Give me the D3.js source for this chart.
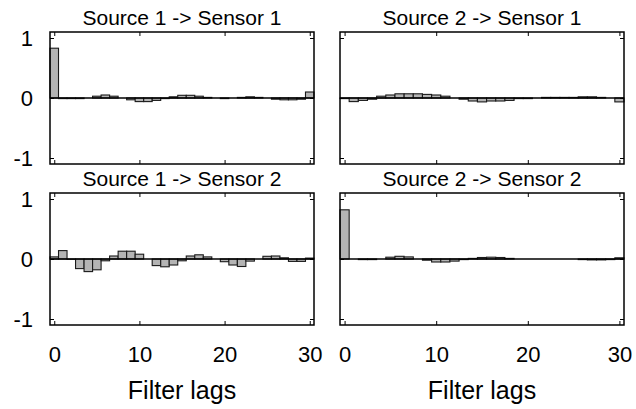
<!DOCTYPE html>
<html>
<head>
<meta charset="utf-8">
<script src="https://cdn.jsdelivr.net/npm/d3@7"></script>
<style>
  html, body { margin: 0; padding: 0; background: #fff; }
  svg { display: block; }
  text { font-family: "Liberation Sans", Arial, Helvetica, sans-serif; fill: #000; }
</style>
</head>
<body>
<svg id="chart" width="636" height="409"></svg>
<script>
// ---- data ----
const lags = d3.range(0, 31);
const xTicks = [0, 10, 20, 30];
const yTicks = [-1, 0, 1];
const panelTitles = ["Source 1 -> Sensor 1", "Source 2 -> Sensor 1", "Source 1 -> Sensor 2", "Source 2 -> Sensor 2"];
const xLabel = "Filter lags";

const s1ToSensor1 = [0.83, -0.01, -0.01, -0.01, 0.0, 0.03, 0.05, 0.03, 0.0, -0.03, -0.06, -0.06, -0.04, -0.01, 0.02, 0.045,
  0.045, 0.03, 0.01, 0.0, -0.01, 0.0, 0.01, 0.02, 0.01, 0.0, -0.02, -0.03, -0.03, -0.02, 0.1];
const s2ToSensor1 = [-0.01, -0.06, -0.04, -0.02, 0.03, 0.05, 0.07, 0.07, 0.07, 0.06, 0.05, 0.03, 0.0, -0.02, -0.05, -0.065,
  -0.05, -0.05, -0.04, -0.01, -0.01, 0.0, 0.01, 0.01, 0.01, 0.01, 0.02, 0.02, 0.01, 0.0, -0.065];
const s1ToSensor2 = [0.035, 0.14, -0.005, -0.16, -0.21, -0.18, -0.03, 0.05, 0.13, 0.13, 0.08, 0.0, -0.11, -0.13, -0.1, -0.03,
  0.05, 0.07, 0.035, 0.0, -0.045, -0.1, -0.125, -0.035, 0.0, 0.045, 0.05, 0.02, -0.04, -0.04, 0.015];
const s2ToSensor2 = [0.82, 0.0, -0.01, -0.01, 0.0, 0.03, 0.045, 0.035, 0.0, -0.02, -0.05, -0.05, -0.035, -0.01, 0.01, 0.025,
  0.03, 0.025, 0.01, 0.0, 0.0, 0.0, 0.0, 0.0, 0.0, 0.0, -0.01, -0.015, -0.015, -0.01, 0.02];

const panelSeries = [s1ToSensor1, s2ToSensor1, s1ToSensor2, s2ToSensor2];

// ---- layout ----
const svg = d3.select("#chart");
const cols = [[50, 314], [340, 624]];
const rows = [[32, 164], [193, 325]];
const fmt = d => String(d);

panelSeries.forEach((vals, i) => {
  const col = i % 2, row = Math.floor(i / 2);
  const [x0, x1] = cols[col];
  const [y0, y1] = rows[row];
  const x = d3.scaleLinear().domain([-0.5, 30.5]).range([x0, x1]);
  const y = d3.scaleLinear().domain([-1.1, 1.1]).range([y1, y0]);
  const g = svg.append("g");

  // bars
  g.selectAll("rect.bar").data(lags).join("rect")
    .attr("class", "bar")
    .attr("x", d => x(d - 0.5))
    .attr("width", d => x(d + 0.5) - x(d - 0.5))
    .attr("y", d => y(Math.max(0, vals[d])))
    .attr("height", d => Math.abs(y(vals[d]) - y(0)))
    .attr("fill", "#b4b4b4")
    .attr("stroke", "#1a1a1a")
    .attr("stroke-width", 1.1);

  // zero line
  g.append("line")
    .attr("x1", x0).attr("x2", x1)
    .attr("y1", y(0)).attr("y2", y(0))
    .attr("stroke", "#000").attr("stroke-width", 1.5);

  // inward ticks (all four sides)
  const tickLen = 4;
  const axB = d3.axisBottom(x).tickValues(xTicks).tickSizeInner(-tickLen).tickSizeOuter(0).tickFormat(row === 1 ? fmt : () => "");
  const axT = d3.axisTop(x).tickValues(xTicks).tickSizeInner(-tickLen).tickSizeOuter(0).tickFormat(() => "");
  const axL = d3.axisLeft(y).tickValues(yTicks).tickSizeInner(-tickLen).tickSizeOuter(0).tickFormat(col === 0 ? fmt : () => "");
  const axR = d3.axisRight(y).tickValues(yTicks).tickSizeInner(-tickLen).tickSizeOuter(0).tickFormat(() => "");

  const styleAxis = (sel) => {
    sel.select(".domain").remove();
    sel.selectAll(".tick line").attr("stroke", "#000").attr("stroke-width", 1);
  };
  g.append("g").attr("transform", `translate(0,${y1})`).call(axB).call(styleAxis)
    .selectAll("text").attr("font-size", 22).attr("font-family", "Liberation Sans, Arial, sans-serif").attr("dy", null).attr("y", 37);
  g.append("g").attr("transform", `translate(0,${y0})`).call(axT).call(styleAxis);
  g.append("g").attr("transform", `translate(${x0},0)`).call(axL).call(styleAxis)
    .selectAll("text").attr("font-size", 22).attr("font-family", "Liberation Sans, Arial, sans-serif").attr("x", -17).attr("dy", "0.36em");
  g.append("g").attr("transform", `translate(${x1},0)`).call(axR).call(styleAxis);

  // frame
  g.append("rect")
    .attr("x", x0).attr("y", y0).attr("width", x1 - x0).attr("height", y1 - y0)
    .attr("fill", "none").attr("stroke", "#000").attr("stroke-width", 1.5);

  // title
  g.append("text")
    .attr("x", (x0 + x1) / 2).attr("y", y0 - 7)
    .attr("text-anchor", "middle").attr("font-size", 21)
    .text(panelTitles[i]);

  // x label
  if (row === 1) {
    g.append("text")
      .attr("x", (x0 + x1) / 2).attr("y", 399)
      .attr("text-anchor", "middle").attr("font-size", 25)
      .text(xLabel);
  }
});
</script>
</body>
</html>
